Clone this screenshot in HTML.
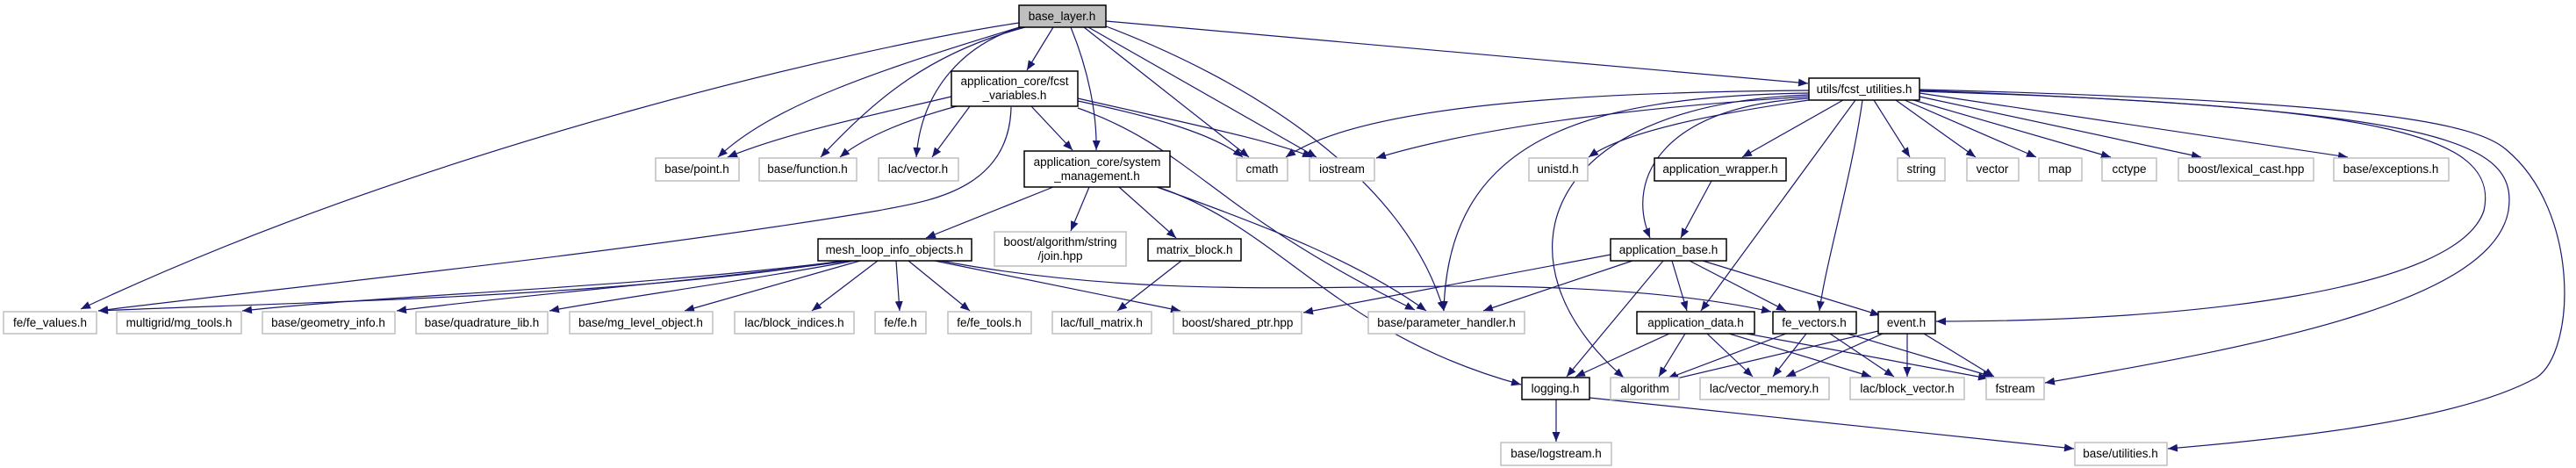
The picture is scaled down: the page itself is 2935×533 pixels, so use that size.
<!DOCTYPE html>
<html><head><meta charset="utf-8"><style>
html,body{margin:0;padding:0;background:#fff;}
svg{display:block;}
text{font-family:"Liberation Sans",Arial,sans-serif;font-size:13.5px;fill:#000;text-anchor:middle;}
.g{fill:#fff;stroke:#bfbfbf;stroke-width:1.5;}
.b{fill:#fff;stroke:#000;stroke-width:1.5;}
.e{fill:none;stroke:#191970;stroke-width:1.2;marker-end:url(#a);}
</style></head><body>
<svg width="2935" height="533" viewBox="0 0 2935 533" xmlns="http://www.w3.org/2000/svg">
<defs><marker id="a" markerUnits="userSpaceOnUse" markerWidth="12" markerHeight="9" refX="11" refY="4.5" orient="auto"><path d="M0,0 L11,4.5 L0,9 z" fill="#191970"/></marker></defs>
<g>
<!-- base_layer edges -->
<path class="e" d="M1161,26 C1000,50 500,160 92,352"/>
<path class="e" d="M1165,30 C1000,80 880,120 818,179"/>
<path class="e" d="M1168,31 C1060,60 1000,110 935,179"/>
<path class="e" d="M1163,31 C1100,50 1050,100 1044,179"/>
<path class="e" d="M1200,31 L1170,80"/>
<path class="e" d="M1220,31 C1240,80 1250,130 1249,171"/>
<path class="e" d="M1235,31 L1423,179"/>
<path class="e" d="M1240,31 L1500,179"/>
<path class="e" d="M1255,28 C1420,90 1600,200 1645,354"/>
<path class="e" d="M1260,24 L2060,95"/>
<!-- fcst_variables -->
<path class="e" d="M1084,110 C1000,130 900,150 829,179"/>
<path class="e" d="M1090,121 C1020,140 980,160 957,179"/>
<path class="e" d="M1105,121 L1062,179"/>
<path class="e" d="M1175,121 L1222,171"/>
<path class="e" d="M1228,115 C1300,130 1380,150 1416,179"/>
<path class="e" d="M1228,112 C1350,140 1450,160 1495,179"/>
<path class="e" d="M1228,123 C1360,170 1380,240 1612,353"/>
<path class="e" d="M1152,122 C1150,220 1050,230 1000,240 C700,290 300,330 112,354"/>
<!-- system_management -->
<path class="e" d="M1200,213 L1055,271"/>
<path class="e" d="M1241,213 L1220,263"/>
<path class="e" d="M1275,213 L1340,271"/>
<path class="e" d="M1318,213 C1450,260 1550,300 1625,354"/>
<path class="e" d="M1319,213 C1460,260 1520,380 1733,438"/>
<!-- mesh_loop -->
<path class="e" d="M960,297 C700,340 300,345 112,354"/>
<path class="e" d="M963,297 C700,330 450,335 276,354"/>
<path class="e" d="M968,297 C800,320 600,335 452,354"/>
<path class="e" d="M973,297 C850,320 700,340 626,354"/>
<path class="e" d="M980,297 L780,354"/>
<path class="e" d="M1000,297 L925,354"/>
<path class="e" d="M1021,297 L1025,354"/>
<path class="e" d="M1035,297 L1105,354"/>
<path class="e" d="M1065,297 L1345,354"/>
<path class="e" d="M1072,297 C1300,340 1500,325 1700,326 C1850,328 1950,340 2018,355"/>
<path class="e" d="M1346,297 L1273,354"/>
<!-- utils -->
<path class="e" d="M2061,103 C1800,105 1550,120 1465,179"/>
<path class="e" d="M2061,110 C1900,120 1700,140 1568,180"/>
<path class="e" d="M2061,106 C1800,110 1650,160 1645,354"/>
<path class="e" d="M2061,114 C1950,130 1850,150 1810,179"/>
<path class="e" d="M2100,114 L1985,179"/>
<path class="e" d="M2061,112 C1900,120 1850,200 1880,271"/>
<path class="e" d="M2061,108 C1750,120 1700,300 1850,430"/>
<path class="e" d="M2114,114 L1938,354"/>
<path class="e" d="M2122,114 C2110,200 2080,300 2073,354"/>
<path class="e" d="M2135,114 L2176,179"/>
<path class="e" d="M2160,114 L2251,179"/>
<path class="e" d="M2170,114 L2320,179"/>
<path class="e" d="M2180,114 L2405,179"/>
<path class="e" d="M2187,110 L2508,179"/>
<path class="e" d="M2187,106 L2675,179"/>
<path class="e" d="M2187,104 C2700,120 2850,150 2830,240 C2800,330 2500,366 2206,366"/>
<path class="e" d="M2187,103 C2780,125 2870,160 2858,240 C2840,340 2600,390 2330,436"/>
<path class="e" d="M2187,102 C2700,115 2820,140 2855,170 C2940,240 2935,400 2890,430 C2800,480 2600,500 2470,511"/>
<!-- app wrapper / base -->
<path class="e" d="M1950,206 L1915,271"/>
<path class="e" d="M1835,290 L1485,356"/>
<path class="e" d="M1860,297 L1690,354"/>
<path class="e" d="M1895,297 L1785,429"/>
<path class="e" d="M1905,297 L1922,354"/>
<path class="e" d="M1925,297 L2035,354"/>
<path class="e" d="M1940,297 L2142,359"/>
<!-- app data -->
<path class="e" d="M1902,380 L1795,429"/>
<path class="e" d="M1920,380 L1890,429"/>
<path class="e" d="M1945,380 L1997,429"/>
<path class="e" d="M1970,380 L2132,429"/>
<path class="e" d="M1990,380 L2265,431"/>
<!-- fe_vectors -->
<path class="e" d="M2035,380 L1900,431"/>
<path class="e" d="M2058,380 L2020,429"/>
<path class="e" d="M2085,380 L2158,429"/>
<path class="e" d="M2105,380 L2270,429"/>
<!-- event -->
<path class="e" d="M2140,377 L1902,433"/>
<path class="e" d="M2145,380 L2035,429"/>
<path class="e" d="M2173,380 L2173,429"/>
<path class="e" d="M2192,380 L2272,429"/>
<!-- logging -->
<path class="e" d="M1773,455 L1773,503"/>
<path class="e" d="M1811,453 L2363,511"/>
</g>
<g>
<rect x="1161" y="6" width="99" height="25" fill="#bfbfbf" stroke="#000" stroke-width="1.5"/><text x="1210" y="23">base_layer.h</text>
<rect class="b" x="1084" y="81" width="144" height="40"/><text x="1156" y="97">application_core/fcst</text><text x="1156" y="113">_variables.h</text>
<rect class="b" x="2061" y="89" width="126" height="25"/><text x="2124" y="106">utils/fcst_utilities.h</text>
<rect class="g" x="747" y="180" width="95" height="26"/><text x="794" y="197">base/point.h</text>
<rect class="g" x="865" y="180" width="111" height="26"/><text x="920" y="197">base/function.h</text>
<rect class="g" x="1001" y="180" width="91" height="26"/><text x="1046" y="197">lac/vector.h</text>
<rect class="b" x="1167" y="172" width="166" height="41"/><text x="1250" y="189">application_core/system</text><text x="1250" y="205">_management.h</text>
<rect class="g" x="1409" y="180" width="58" height="26"/><text x="1438" y="197">cmath</text>
<rect class="g" x="1492" y="180" width="74" height="26"/><text x="1529" y="197">iostream</text>
<rect class="g" x="1742" y="180" width="67" height="26"/><text x="1775" y="197">unistd.h</text>
<rect class="b" x="1885" y="180" width="150" height="26"/><text x="1960" y="197">application_wrapper.h</text>
<rect class="g" x="2162" y="180" width="54" height="26"/><text x="2189" y="197">string</text>
<rect class="g" x="2241" y="180" width="59" height="26"/><text x="2270" y="197">vector</text>
<rect class="g" x="2323" y="180" width="49" height="26"/><text x="2347" y="197">map</text>
<rect class="g" x="2395" y="180" width="62" height="26"/><text x="2426" y="197">cctype</text>
<rect class="g" x="2482" y="180" width="154" height="26"/><text x="2559" y="197">boost/lexical_cast.hpp</text>
<rect class="g" x="2659" y="180" width="131" height="26"/><text x="2724" y="197">base/exceptions.h</text>
<rect class="b" x="932" y="272" width="175" height="25"/><text x="1019" y="289">mesh_loop_info_objects.h</text>
<rect class="g" x="1133" y="264" width="150" height="39"/><text x="1208" y="280">boost/algorithm/string</text><text x="1208" y="296">/join.hpp</text>
<rect class="b" x="1308" y="272" width="106" height="25"/><text x="1361" y="289">matrix_block.h</text>
<rect class="b" x="1835" y="272" width="132" height="25"/><text x="1901" y="289">application_base.h</text>
<rect class="g" x="4" y="355" width="106" height="25"/><text x="57" y="372">fe/fe_values.h</text>
<rect class="g" x="133" y="355" width="142" height="25"/><text x="204" y="372">multigrid/mg_tools.h</text>
<rect class="g" x="299" y="355" width="151" height="25"/><text x="374" y="372">base/geometry_info.h</text>
<rect class="g" x="474" y="355" width="150" height="25"/><text x="549" y="372">base/quadrature_lib.h</text>
<rect class="g" x="649" y="355" width="163" height="25"/><text x="730" y="372">base/mg_level_object.h</text>
<rect class="g" x="837" y="355" width="136" height="25"/><text x="905" y="372">lac/block_indices.h</text>
<rect class="g" x="997" y="355" width="58" height="25"/><text x="1026" y="372">fe/fe.h</text>
<rect class="g" x="1080" y="355" width="95" height="25"/><text x="1127" y="372">fe/fe_tools.h</text>
<rect class="g" x="1199" y="355" width="113" height="25"/><text x="1255" y="372">lac/full_matrix.h</text>
<rect class="g" x="1337" y="355" width="146" height="25"/><text x="1410" y="372">boost/shared_ptr.hpp</text>
<rect class="g" x="1559" y="355" width="178" height="25"/><text x="1648" y="372">base/parameter_handler.h</text>
<rect class="b" x="1865" y="355" width="134" height="25"/><text x="1932" y="372">application_data.h</text>
<rect class="b" x="2020" y="355" width="95" height="25"/><text x="2067" y="372">fe_vectors.h</text>
<rect class="b" x="2140" y="355" width="65" height="25"/><text x="2172" y="372">event.h</text>
<rect class="b" x="1734" y="430" width="77" height="25"/><text x="1772" y="447">logging.h</text>
<rect class="g" x="1835" y="430" width="78" height="25"/><text x="1874" y="447">algorithm</text>
<rect class="g" x="1937" y="430" width="147" height="25"/><text x="2010" y="447">lac/vector_memory.h</text>
<rect class="g" x="2108" y="430" width="130" height="25"/><text x="2173" y="447">lac/block_vector.h</text>
<rect class="g" x="2263" y="430" width="66" height="25"/><text x="2296" y="447">fstream</text>
<rect class="g" x="1710" y="504" width="126" height="26"/><text x="1773" y="521">base/logstream.h</text>
<rect class="g" x="2364" y="504" width="105" height="26"/><text x="2416" y="521">base/utilities.h</text>
</g>
</svg>
</body></html>
